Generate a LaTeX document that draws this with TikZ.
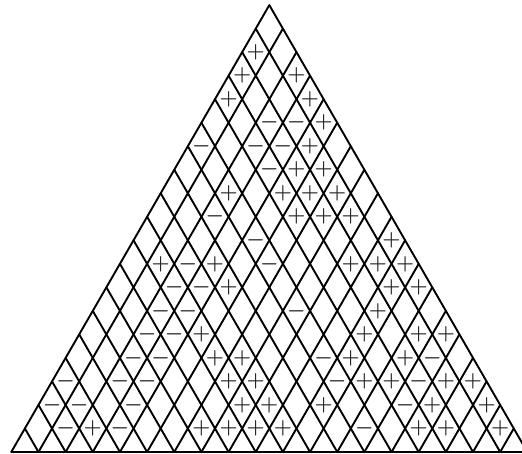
\documentclass[tikz,border=0pt]{standalone}
\begin{document}
\begin{tikzpicture}[x=1pt,y=1pt,
  lat/.style={line width=1.9pt, line cap=round, line join=round, black},
  sgn/.style={inner sep=0pt, text=black!85, font=\fontsize{20}{20}\selectfont\boldmath}]
\useasboundingbox (0,0) rectangle (522,454);
\clip (0,0) rectangle (522,454);
\def\xl{11.3}\def\yb{2}\def\dd{27.16}\def\hh{23.52}\def\nn{19}
\coordinate (bl) at (\xl,\yb);
\coordinate (br) at ({\xl+\nn*\dd},\yb);
\coordinate (apex) at ({\xl+\nn*\dd/2},{\yb+\nn*\hh});
% lines parallel to the left side (left side included)
\foreach \i in {0,...,18} {
  \coordinate (a\i) at ({\xl+\i*\dd},\yb);
  \coordinate (ae\i) at ({\xl+(\i+\nn)*\dd/2},{\yb+(\nn-\i)*\hh});
  \draw[lat] (a\i) -- (ae\i);
}
% lines parallel to the right side (right side included)
\foreach \j in {1,...,19} {
  \coordinate (b\j) at ({\xl+\j*\dd},\yb);
  \coordinate (be\j) at ({\xl+\j*\dd/2},{\yb+\j*\hh});
  \draw[lat] (b\j) -- (be\j);
}
% base
\draw[lat] (bl) -- (br);
% plus signs
\foreach \r/\i in {1/2,1/6,1/7,1/8,1/9,1/14,1/15,1/17,
  2/7,2/8,2/10,2/14,2/16,
  3/6,3/7,3/11,3/12,3/14,3/15,
  4/5,4/6,4/10,4/12,
  5/4,5/10,5/12,5/13,
  6/10,
  7/4,7/10,7/11,
  8/1,8/3,8/8,8/9,8/10,
  9/9,
  10/5,10/6,10/7,
  11/2,11/4,11/5,11/6,
  12/4,12/5,
  13/4,
  14/4,
  15/0,15/3,
  16/0,16/2,
  17/0} {
  \node[sgn] (p\r-\i) at ({\xl+(\i+(\r+1)/2)*\dd},{\yb+\r*\hh}) {$+$};
}
% minus signs
\foreach \r/\i in {1/1,1/3,1/12,
  2/0,2/1,2/3,2/13,
  3/0,3/2,3/3,3/10,3/13,
  4/2,4/3,4/9,4/13,
  5/2,5/3,
  6/2,6/3,6/7,
  7/2,7/3,
  8/2,8/5,
  9/4,
  10/2,
  12/3,
  13/0,13/2,13/3,
  14/2,14/3} {
  \node[sgn] (m\r-\i) at ({\xl+(\i+(\r+1)/2)*\dd},{\yb+\r*\hh}) {$-$};
}
\end{tikzpicture}
\end{document}
